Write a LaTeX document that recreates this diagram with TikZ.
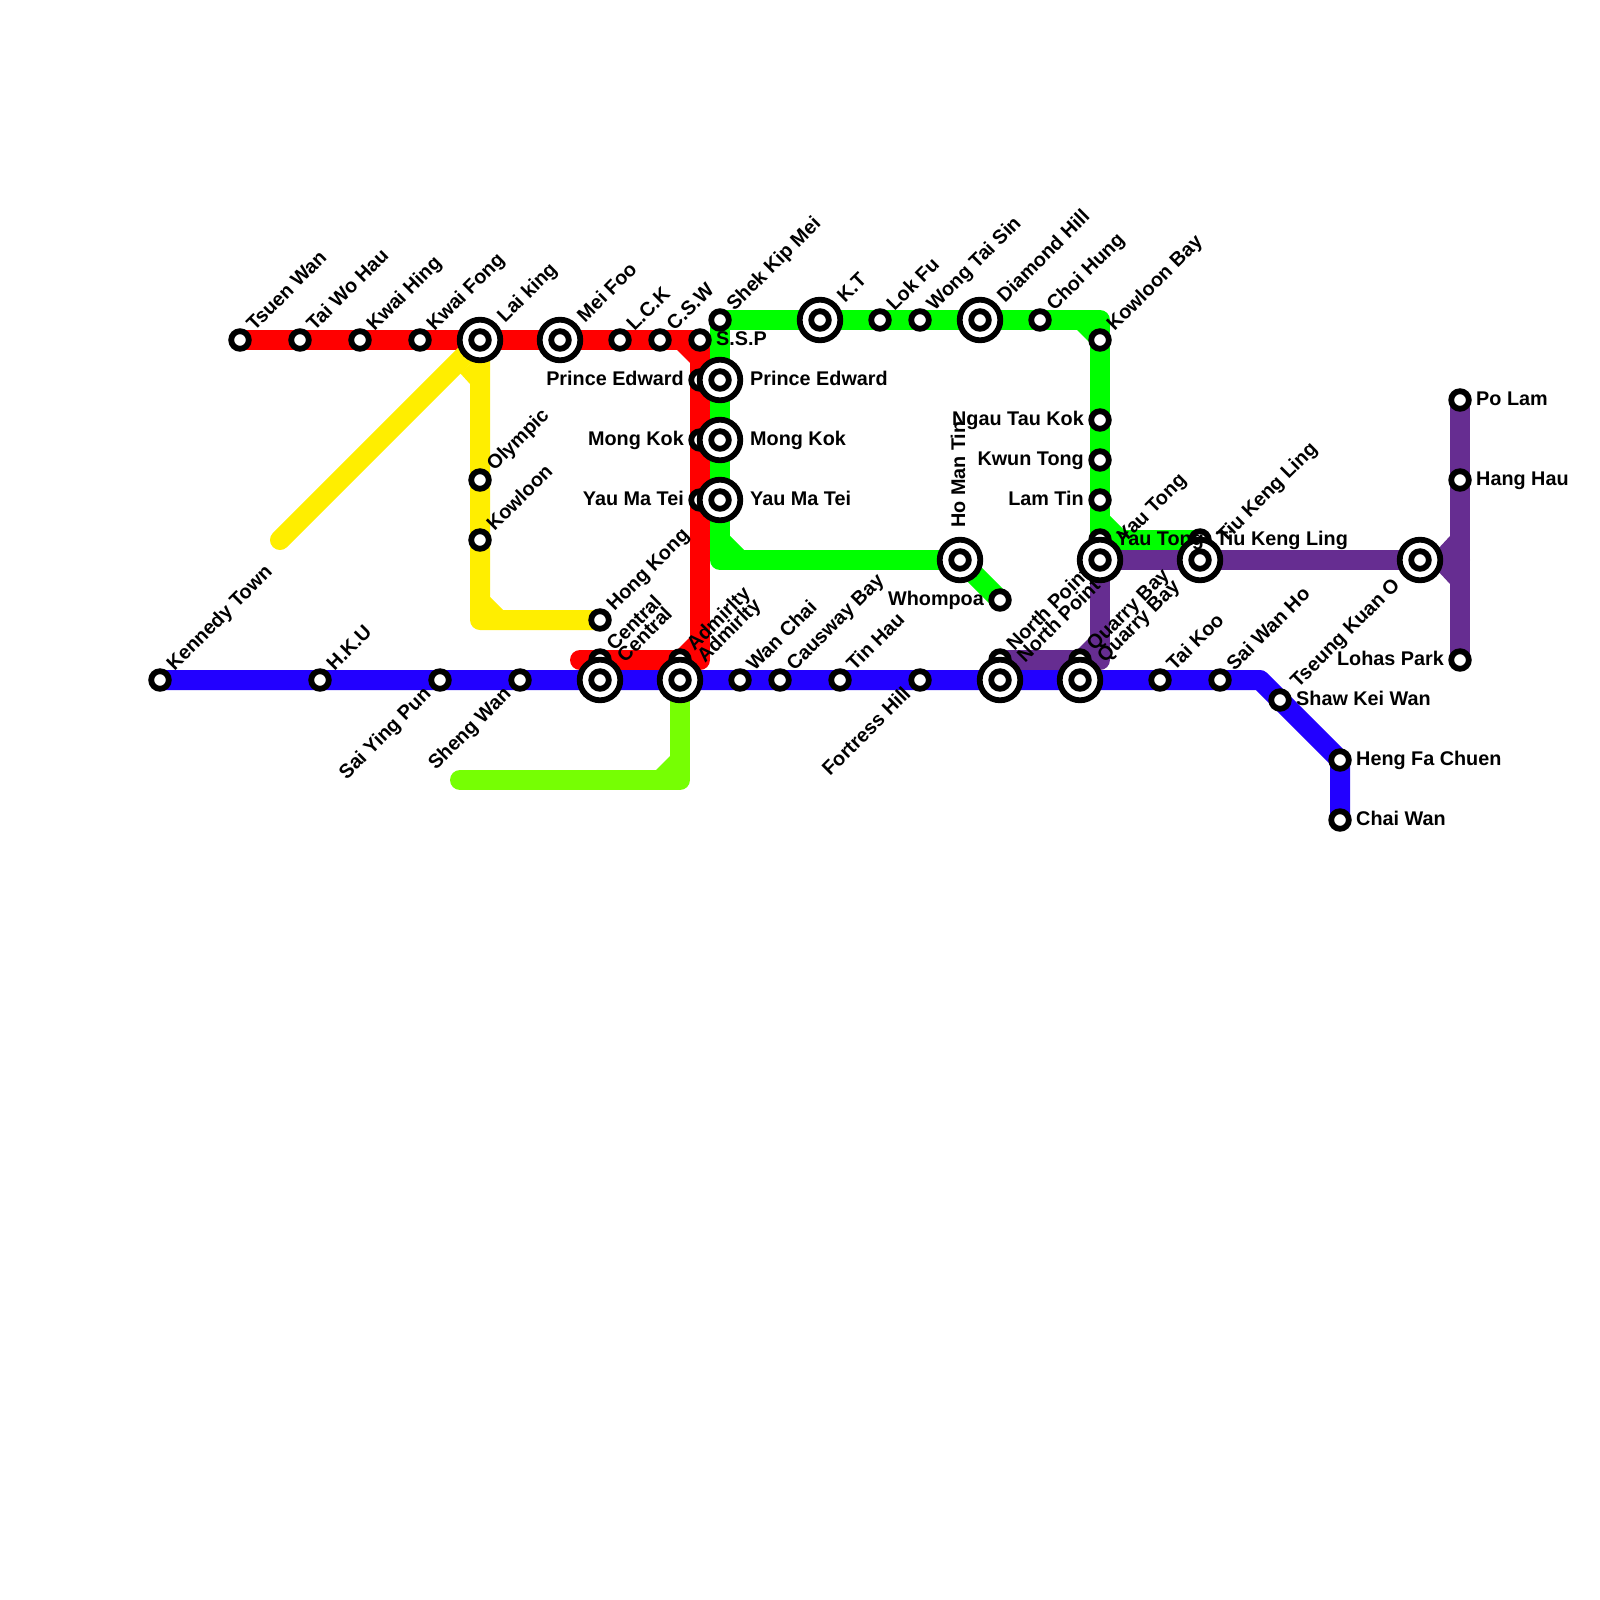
\documentclass[tikz,border=0pt]{standalone}
\usepackage{fontspec}
\setmainfont{Liberation Sans}
\usetikzlibrary{backgrounds}
\definecolor{RedLine}{RGB}{255, 0, 0}
\definecolor{YellowLine}{RGB}{255, 238, 0}
\definecolor{GreenLine}{RGB}{0, 255, 0}
\definecolor{LimeLine}{RGB}{118, 255, 3}
\definecolor{BlueLine}{RGB}{34, 0, 255}
\definecolor{PurpleLine}{RGB}{102, 45, 145}

\begin{document}
\begin{tikzpicture}[
    x=1pt, y=-1pt,
    txt/.style={font=\fontsize{19.8}{22}\selectfont\bfseries, inner sep=0pt, text=black},
    stn/.style={circle, draw=black, fill=white, line width=5.8pt, minimum size=17.6pt, inner sep=0pt},
    big/.style={stn, minimum size=40.6pt, path picture={\draw[line width=5.8pt, fill=white] (path picture bounding box.center) circle (8.8pt);}},
    labne/.style={txt, xshift=14.5pt, yshift=8pt, rotate=45, anchor=base west},
    labnb/.style={txt, xshift=25pt, yshift=16.5pt, rotate=45, anchor=base west},
    labsw/.style={txt, xshift=-8pt, yshift=-15pt, rotate=45, anchor=base east},
    labsb/.style={txt, xshift=-19pt, yshift=-26pt, rotate=45, anchor=base east},
    labe/.style={txt, xshift=16pt, yshift=-5pt, anchor=base west},
    labeb/.style={txt, xshift=30pt, yshift=-5pt, anchor=base west},
    labw/.style={txt, xshift=-16pt, yshift=-5pt, anchor=base east},
    labn/.style={txt, xshift=5pt, yshift=32pt, rotate=90, anchor=base west},
    line/.style={line width=20pt, line join=round, line cap=round}
]
    \useasboundingbox (0,0) rectangle (1600,1600);

    % red
    \node[stn] (tsuen) at (240,340) {};
    \node[stn] (taiwo) at (300,340) {};
    \node[stn] (kwaih) at (360,340) {};
    \node[stn] (kwaif) at (420,340) {};
    \node[stn] (lck) at (620,340) {};
    \node[stn] (csw) at (660,340) {};
    \node[stn] (ssp) at (700,340) {};
    \node[stn] (princer) at (700,380) {};
    \node[stn] (mongr) at (700,440) {};
    \node[stn] (yaumar) at (700,500) {};
    \node[stn] (centralr) at (600,660) {};
    \node[stn] (admir) at (680,660) {};
    \coordinate (redcorner) at (700,660);
    \coordinate (redend) at (580,660);

    % yellow
    \coordinate (yelend) at (280,540);
    \node[stn] (olympic) at (480,480) {};
    \node[stn] (kowloon) at (480,540) {};
    \node[stn] (hk) at (600,620) {};
    \coordinate (yelcorner) at (480,620);

    % green
    \node[stn] (shek) at (720,320) {};
    \node[stn] (lokfu) at (880,320) {};
    \node[stn] (wong) at (920,320) {};
    \node[stn] (choi) at (1040,320) {};
    \node[stn] (klnbay) at (1100,340) {};
    \node[stn] (ngau) at (1100,420) {};
    \node[stn] (kwun) at (1100,460) {};
    \node[stn] (lamtin) at (1100,500) {};
    \node[stn] (yaug) at (1100,540) {};
    \node[stn] (tiug) at (1200,540) {};
    \node[stn] (whom) at (1000,600) {};
    \coordinate (grecorner) at (720,560);
    \coordinate (greturn) at (1100,320);

    % blue
    \node[stn] (kennedy) at (160,680) {};
    \node[stn] (hku) at (320,680) {};
    \node[stn] (saiying) at (440,680) {};
    \node[stn] (sheng) at (520,680) {};
    \node[stn] (wanchai) at (740,680) {};
    \node[stn] (causway) at (780,680) {};
    \node[stn] (tinhau) at (840,680) {};
    \node[stn] (fortress) at (920,680) {};
    \node[stn] (taikoo) at (1160,680) {};
    \node[stn] (saiwan) at (1220,680) {};
    \node[stn] (shaw) at (1280,700) {};
    \node[stn] (heng) at (1340,760) {};
    \node[stn] (chai) at (1340,820) {};
    \coordinate (blueturn) at (1260,680);

    % purple
    \node[stn] (northp) at (1000,660) {};
    \node[stn] (quarryp) at (1080,660) {};
    \node[stn] (polam) at (1460,400) {};
    \node[stn] (hang) at (1460,480) {};
    \node[stn] (lohas) at (1460,660) {};
    \coordinate (purturn) at (1100,660);
    \coordinate (purjoin) at (1460,560);

    % lime
    \coordinate (limeturn) at (680,780);
    \coordinate (limeend) at (460,780);

    % interchanges
    \node[big] (laiking) at (480,340) {};
    \node[big] (meifoo) at (560,340) {};
    \node[big] (kt) at (820,320) {};
    \node[big] (diamond) at (980,320) {};
    \node[big] (princeg) at (720,380) {};
    \node[big] (mongg) at (720,440) {};
    \node[big] (yaumag) at (720,500) {};
    \node[big] (homan) at (960,560) {};
    \node[big] (yaup) at (1100,560) {};
    \node[big] (tiup) at (1200,560) {};
    \node[big] (tseung) at (1420,560) {};
    \node[big] (centralb) at (600,680) {};
    \node[big] (admib) at (680,680) {};
    \node[big] (northb) at (1000,680) {};
    \node[big] (quarryb) at (1080,680) {};

    % labels
    \node[labne] (ltsuen) at (tsuen) {Tsuen Wan};
    \node[labne] (ltaiwo) at (taiwo) {Tai Wo Hau};
    \node[labne] (lkwaih) at (kwaih) {Kwai Hing};
    \node[labne] (lkwaif) at (kwaif) {Kwai Fong};
    \node[labnb] (llaiking) at (laiking) {Lai king};
    \node[labnb] (lmeifoo) at (meifoo) {Mei Foo};
    \node[labne] (llck) at (lck) {L.C.K};
    \node[labne] (lcsw) at (csw) {C.S.W};
    \node[labe] (lssp) at (ssp) {S.S.P};
    \node[labw] (lprincer) at (princer) {Prince Edward};
    \node[labw] (lmongr) at (mongr) {Mong Kok};
    \node[labw] (lyaumar) at (yaumar) {Yau Ma Tei};
    \node[labeb] (lprinceg) at (princeg) {Prince Edward};
    \node[labeb] (lmongg) at (mongg) {Mong Kok};
    \node[labeb] (lyaumag) at (yaumag) {Yau Ma Tei};
    \node[labne] (lcentralr) at (centralr) {Central};
    \node[labnb] (lcentralb) at (centralb) {Central};
    \node[labne] (ladmir) at (admir) {Admirlty};
    \node[labnb] (ladmib) at (admib) {Admirlty};
    \node[labne] (lolympic) at (olympic) {Olympic};
    \node[labne] (lkowloon) at (kowloon) {Kowloon};
    \node[labne] (lhk) at (hk) {Hong Kong};
    \node[labne] (lshek) at (shek) {Shek Kip Mei};
    \node[labnb] (lkt) at (kt) {K.T};
    \node[labne] (llokfu) at (lokfu) {Lok Fu};
    \node[labne] (lwong) at (wong) {Wong Tai Sin};
    \node[labnb] (ldiamond) at (diamond) {Diamond Hill};
    \node[labne] (lchoi) at (choi) {Choi Hung};
    \node[labne] (lklnbay) at (klnbay) {Kowloon Bay};
    \node[labw] (lngau) at (ngau) {Ngau Tau Kok};
    \node[labw] (lkwun) at (kwun) {Kwun Tong};
    \node[labw] (llamtin) at (lamtin) {Lam Tin};
    \node[labnb] (lyaup) at (yaup) {Yau Tong};
    \node[labe] (lyaug) at (yaug) {Yau Tong};
    \node[labnb] (ltiup) at (tiup) {Tiu Keng Ling};
    \node[labe] (ltiug) at (tiug) {Tiu Keng Ling};
    \node[labw] (lwhom) at (whom) {Whompoa};
    \node[labn] (lhoman) at (homan) {Ho Man Tin};
    \node[labne] (lkennedy) at (kennedy) {Kennedy Town};
    \node[labne] (lhku) at (hku) {H.K.U};
    \node[labsw] (lsaiying) at (saiying) {Sai Ying Pun};
    \node[labsw] (lsheng) at (sheng) {Sheng Wan};
    \node[labne] (lwanchai) at (wanchai) {Wan Chai};
    \node[labne] (lcausway) at (causway) {Causway Bay};
    \node[labne] (ltinhau) at (tinhau) {Tin Hau};
    \node[labsw] (lfortress) at (fortress) {Fortress Hill};
    \node[labne] (lnorthp) at (northp) {North Point};
    \node[labnb] (lnorthb) at (northb) {North Point};
    \node[labne] (lquarryp) at (quarryp) {Quarry Bay};
    \node[labnb] (lquarryb) at (quarryb) {Quarry Bay};
    \node[labne] (ltaikoo) at (taikoo) {Tai Koo};
    \node[labne] (lsaiwan) at (saiwan) {Sai Wan Ho};
    \node[labe] (lshaw) at (shaw) {Shaw Kei Wan};
    \node[labe] (lheng) at (heng) {Heng Fa Chuen};
    \node[labe] (lchai) at (chai) {Chai Wan};
    \node[labsb] (ltseung) at (tseung) {Tseung Kuan O};
    \node[labe] (lpolam) at (polam) {Po Lam};
    \node[labe] (lhang) at (hang) {Hang Hau};
    \node[labw] (llohas) at (lohas) {Lohas Park};

    \begin{scope}[on background layer]
        \draw[line, RedLine] (tsuen.center) -- (taiwo.center) -- (kwaih.center) -- (kwaif.center) -- (laiking.center) -- (meifoo.center) -- (lck.center) -- (csw.center) -- (ssp.center) -- (princer.center) -- (mongr.center) -- (yaumar.center) -- (redcorner) -- (admir.center) -- (centralr.center) -- (redend);
        \fill[RedLine] (677,350) -- (690,350) -- (690,363) -- cycle;
        \fill[RedLine] (677,650) -- (690,650) -- (690,637) -- cycle;

        \draw[line, YellowLine] (yelend) -- (laiking.center) -- (olympic.center) -- (kowloon.center) -- (yelcorner) -- (hk.center);
        \fill[YellowLine] (460,373) -- (470,384) -- (470,364) -- cycle;
        \fill[YellowLine] (490,597) -- (503,610) -- (490,610) -- cycle;

        \draw[line, GreenLine] (homan.center) -- (whom.center);
        \draw[line, GreenLine] (homan.center) -- (grecorner) -- (yaumag.center) -- (mongg.center) -- (princeg.center) -- (shek.center) -- (kt.center) -- (lokfu.center) -- (wong.center) -- (diamond.center) -- (choi.center) -- (greturn) -- (klnbay.center) -- (ngau.center) -- (kwun.center) -- (lamtin.center) -- (yaug.center) -- (tiug.center);
        \fill[GreenLine] (730,536) -- (744,550) -- (730,550) -- cycle;
        \fill[GreenLine] (1077,330) -- (1090,330) -- (1090,343) -- cycle;
        \fill[GreenLine] (1110,516) -- (1124,530) -- (1110,530) -- cycle;

        \draw[line, LimeLine] (admib.center) -- (limeturn) -- (limeend);
        \fill[LimeLine] (670,756) -- (670,770) -- (656,770) -- cycle;

        \draw[line, PurpleLine] (polam.center) -- (hang.center) -- (lohas.center);
        \draw[line, PurpleLine] (purjoin) -- (tseung.center) -- (tiup.center) -- (yaup.center) -- (purturn) -- (quarryp.center) -- (northp.center);
        \fill[PurpleLine] (1437,550) -- (1450,550) -- (1450,536) -- cycle;
        \fill[PurpleLine] (1437,570) -- (1450,570) -- (1450,584) -- cycle;
        \fill[PurpleLine] (1077,650) -- (1090,650) -- (1090,637) -- cycle;

        \draw[line, BlueLine] (kennedy.center) -- (hku.center) -- (saiying.center) -- (sheng.center) -- (centralb.center) -- (admib.center) -- (wanchai.center) -- (causway.center) -- (tinhau.center) -- (fortress.center) -- (northb.center) -- (quarryb.center) -- (taikoo.center) -- (saiwan.center) -- (blueturn) -- (shaw.center) -- (heng.center) -- (chai.center);
    \end{scope}
\end{tikzpicture}
\end{document}
